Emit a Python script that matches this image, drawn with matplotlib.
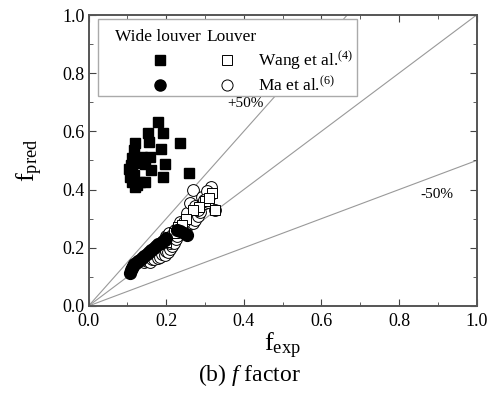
import numpy as np
import matplotlib
matplotlib.use("Agg")
import matplotlib.pyplot as plt
from matplotlib.patches import Rectangle
from matplotlib.ticker import MultipleLocator

plt.rcParams['font.family'] = ['Liberation Serif', 'DejaVu Serif']
plt.rcParams['mathtext.fontset'] = 'custom'
plt.rcParams['mathtext.rm'] = 'Liberation Serif'
plt.rcParams['mathtext.it'] = 'Liberation Serif:italic'

# wide louver, Wang et al. (filled squares)
wide_wang_x = [0.179, 0.154, 0.193, 0.157, 0.236, 0.186, 0.120, 0.116, 0.159, 0.137,
               0.112, 0.110, 0.113, 0.108, 0.112, 0.197, 0.160, 0.146, 0.193, 0.258,
               0.146, 0.124, 0.133, 0.120, 0.105, 0.125, 0.118]
wide_wang_y = [0.631, 0.596, 0.593, 0.565, 0.559, 0.538, 0.559, 0.536, 0.513, 0.513,
               0.508, 0.485, 0.462, 0.444, 0.427, 0.488, 0.467, 0.488, 0.444, 0.458,
               0.427, 0.416, 0.427, 0.410, 0.470, 0.490, 0.450]

# wide louver, Ma et al. (filled circles)
wide_ma_x = [0.106, 0.109, 0.111, 0.114, 0.118, 0.122, 0.127, 0.132, 0.138, 0.144,
             0.150, 0.156, 0.162, 0.168, 0.174, 0.180, 0.186, 0.191, 0.196, 0.200,
             0.228, 0.236, 0.247, 0.253]
wide_ma_y = [0.115, 0.122, 0.130, 0.137, 0.143, 0.148, 0.153, 0.158, 0.165, 0.172,
             0.180, 0.187, 0.193, 0.200, 0.206, 0.212, 0.218, 0.222, 0.227, 0.232,
             0.262, 0.258, 0.250, 0.244]

# louver, Wang et al. (open squares)
louver_wang_x = [0.318, 0.326, 0.300, 0.285, 0.270, 0.250, 0.230, 0.220, 0.200, 0.240, 0.310]
louver_wang_y = [0.387, 0.330, 0.360, 0.340, 0.330, 0.300, 0.270, 0.250, 0.220, 0.280, 0.370]

# louver, Ma et al. (open circles)
louver_ma_x = [0.143, 0.150, 0.158, 0.163, 0.170, 0.178, 0.185, 0.190, 0.197, 0.200,
               0.205, 0.210, 0.215, 0.210, 0.220, 0.200, 0.207, 0.215, 0.225, 0.228,
               0.222, 0.230, 0.240, 0.245, 0.235, 0.255, 0.262, 0.270, 0.253, 0.262,
               0.253, 0.275, 0.283, 0.288, 0.245, 0.262, 0.275, 0.283, 0.292, 0.301,
               0.309, 0.326, 0.269, 0.292, 0.314, 0.315, 0.305, 0.298]
louver_ma_y = [0.150, 0.155, 0.150, 0.160, 0.160, 0.165, 0.170, 0.180, 0.175, 0.190,
               0.185, 0.195, 0.205, 0.215, 0.215, 0.240, 0.250, 0.245, 0.230, 0.240,
               0.262, 0.270, 0.260, 0.284, 0.290, 0.275, 0.285, 0.284, 0.300, 0.320,
               0.319, 0.296, 0.310, 0.324, 0.290, 0.353, 0.345, 0.330, 0.350, 0.353,
               0.358, 0.330, 0.399, 0.376, 0.381, 0.410, 0.395, 0.365]

ratios = [1.5, 1.0, 0.5]

fig = plt.figure(figsize=(4.99, 3.96), dpi=100)
ax = fig.add_axes([0.1774, 0.2273, 0.7776, 0.7348])

xs = np.array([0.0, 1.0])
for r in ratios:
    ax.plot(xs, r * xs, color='#999999', lw=0.8, zorder=1)

ax.plot(louver_ma_x, louver_ma_y, 'o', ms=8.5, mfc='white', mec='black', mew=0.7, ls='none', zorder=2)
ax.plot(louver_wang_x, louver_wang_y, 's', ms=7.5, mfc='white', mec='black', mew=0.7, ls='none', zorder=2)
ax.plot(wide_ma_x, wide_ma_y, 'o', ms=8.5, color='black', ls='none', zorder=3)
ax.plot(wide_wang_x, wide_wang_y, 's', ms=7.5, color='black', ls='none', zorder=3)

ax.text(0.404, 0.697, '+50%', fontsize=11, ha='center', va='center')
ax.text(0.899, 0.384, '-50%', fontsize=11, ha='center', va='center')

ax.set_xlim(0, 1)
ax.set_ylim(0, 1)
ax.xaxis.set_major_locator(MultipleLocator(0.2))
ax.xaxis.set_minor_locator(MultipleLocator(0.1))
ax.yaxis.set_major_locator(MultipleLocator(0.2))
ax.yaxis.set_minor_locator(MultipleLocator(0.1))
ax.xaxis.set_major_formatter(plt.FormatStrFormatter('%.1f'))
ax.yaxis.set_major_formatter(plt.FormatStrFormatter('%.1f'))
ax.tick_params(which='both', direction='in', top=True, right=True, labelsize=13, color='#444444')
ax.tick_params(which='major', length=5)
ax.tick_params(which='minor', length=3)
ax.tick_params(axis='x', which='major', pad=5)
ax.tick_params(axis='y', which='major', pad=3)
for s in ax.spines.values():
    s.set_color('#555555')
    s.set_linewidth(1.4)

ax.set_xlabel(r'$\mathrm{f}_{\mathrm{exp}}$', fontsize=19, labelpad=1)
ax.set_ylabel(r'$\mathrm{f}_{\mathrm{pred}}$', fontsize=19, labelpad=12)
fig.text(0.5, 0.052, r'(b) $\mathit{f}$ factor', fontsize=17, ha='center', va='center')

# legend drawn by hand
ax.add_patch(Rectangle((0.025, 0.722), 0.668, 0.263, transform=ax.transAxes,
                       fill=True, fc='white', ec='#aaaaaa', lw=1.0, zorder=4))
ax.text(0.178, 0.925, 'Wide louver', transform=ax.transAxes, fontsize=12.5, ha='center', va='center', zorder=5)
ax.text(0.368, 0.925, 'Louver', transform=ax.transAxes, fontsize=12.5, ha='center', va='center', zorder=5)
ax.plot([0.183], [0.845], 's', ms=7, color='black', transform=ax.transAxes, zorder=5)
ax.plot([0.357], [0.845], 's', ms=7, mfc='white', mec='black', mew=0.7, transform=ax.transAxes, zorder=5)
ax.plot([0.183], [0.759], 'o', ms=8, color='black', transform=ax.transAxes, zorder=5)
ax.plot([0.357], [0.759], 'o', ms=8, mfc='white', mec='black', mew=0.7, transform=ax.transAxes, zorder=5)
ax.text(0.437, 0.845, r'Wang et al.$^{(4)}$', transform=ax.transAxes, fontsize=12.5, ha='left', va='center', zorder=5)
ax.text(0.437, 0.759, r'Ma et al.$^{(6)}$', transform=ax.transAxes, fontsize=12.5, ha='left', va='center', zorder=5)

fig.savefig('out.png', dpi=100)
